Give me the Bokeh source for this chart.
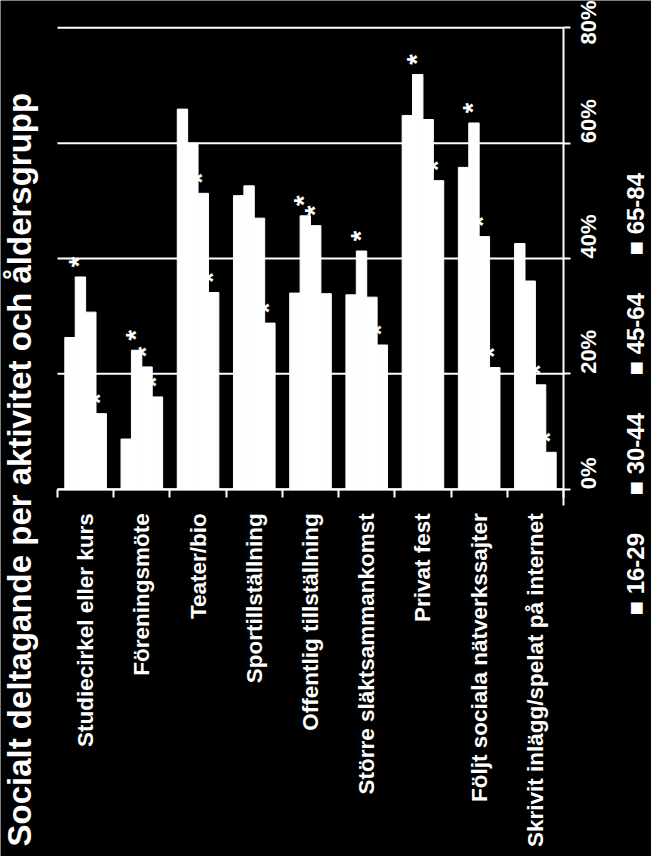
import math
from bokeh.plotting import figure
from bokeh.models import ColumnDataSource, FixedTicker, PrintfTickFormatter, Range1d
from bokeh.transform import dodge
from bokeh.core.properties import value
from bokeh.embed import file_html
from bokeh.resources import INLINE

title_text = "Socialt deltagande per aktivitet och åldersgrupp"
categories = ["Studiecirkel eller kurs", "Föreningsmöte", "Teater/bio", "Sportillställning",
              "Offentlig tillställning", "Större släktsammankomst", "Privat fest",
              "Följt sociala nätverkssajter", "Skrivit inlägg/spelat på internet"]
series = ["16-29", "30-44", "45-64", "65-84"]
v_16_29 = [26.3, 8.7, 65.9, 50.9, 34.0, 33.7, 64.8, 55.8, 42.6]
v_30_44 = [36.8, 24.1, 60.0, 52.6, 47.4, 41.3, 71.9, 63.5, 36.1]
v_45_64 = [30.7, 21.2, 51.3, 47.0, 45.7, 33.3, 64.1, 43.8, 18.1]
v_65_84 = [13.1, 16.0, 34.1, 28.8, 33.9, 25.0, 53.5, 21.1, 6.4]
# significance marks (*)
s_16_29 = [0, 0, 0, 0, 0, 0, 0, 0, 0]
s_30_44 = [1, 1, 0, 0, 1, 1, 1, 1, 0]
s_45_64 = [0, 1, 1, 0, 1, 0, 0, 1, 1]
s_65_84 = [1, 1, 1, 1, 0, 1, 1, 1, 1]
y_ticks = [0, 20, 40, 60, 80]

values = [v_16_29, v_30_44, v_45_64, v_65_84]
stars = [s_16_29, s_30_44, s_45_64, s_65_84]

FONT = "Liberation Sans"
W, H = 651, 856
N = len(categories)

# layout (pixel) geometry of the plotting area
PX_LEFT, PX_RIGHT = 57.0, 563.0      # category axis extent
PX_ZERO, PX_TOP = 488.7, 27.3        # 0% and 80% positions
ux = (PX_RIGHT - PX_LEFT) / N
uy = (PX_ZERO - PX_TOP) / y_ticks[-1]

def dx(px):
    return (px - PX_LEFT) / ux

def dy(py):
    return (PX_ZERO - py) / uy

p = figure(width=W, height=H, output_backend="svg", toolbar_location=None,
           x_range=Range1d(dx(0), dx(W)), y_range=Range1d(dy(H), dy(0)),
           y_axis_location="right", background_fill_color="black",
           border_fill_color="black", outline_line_color=None, min_border=0)
p.grid.visible = False

# gridlines
p.segment(x0=[0] * len(y_ticks), x1=[N] * len(y_ticks), y0=y_ticks, y1=y_ticks,
          line_color="white", line_width=2)

xc = [i + 0.5 for i in range(N)]
bw = 0.185
offsets = [-1.5 * bw, -0.5 * bw, 0.5 * bw, 1.5 * bw]

for vals, st, off in zip(values, stars, offsets):
    src = ColumnDataSource(dict(x=xc, top=vals, star=["*" if s else "" for s in st]))
    p.vbar(x=dodge("x", off, range=p.x_range), top="top", width=bw, bottom=0, source=src,
           fill_color="white", line_color="white", line_width=1)
    p.text(x=dodge("x", off, range=p.x_range), y="top", text="star", source=src,
           angle=math.pi / 2, text_align="center", text_baseline="middle",
           x_offset=-1, y_offset=-15, text_color="white", text_font=value(FONT),
           text_font_style="bold", text_font_size="27px")

# x axis (category axis, fixed at 0 %)
xa = p.xaxis[0]
xa.fixed_location = 0
xa.bounds = (0, N)
xa.ticker = FixedTicker(ticks=xc, minor_ticks=list(range(N + 1)))
xa.major_label_overrides = {x: c for x, c in zip(xc, categories)}
xa.major_label_orientation = math.pi / 2
xa.major_label_text_color = "white"
xa.major_label_text_font = FONT
xa.major_label_text_font_style = "bold"
xa.major_label_text_font_size = "22.5px"
xa.major_label_standoff = 16
xa.major_tick_line_color = None
xa.major_tick_out = 0
xa.minor_tick_line_color = "white"
xa.minor_tick_line_width = 2
xa.minor_tick_out = 8
xa.minor_tick_in = 0
xa.axis_line_color = "white"
xa.axis_line_width = 2

# y axis (value axis, right edge of categories)
ya = p.yaxis[0]
ya.fixed_location = N
ya.bounds = (dy(505), y_ticks[-1])
ya.ticker = FixedTicker(ticks=y_ticks, minor_ticks=[])
ya.formatter = PrintfTickFormatter(format="%d%%")
ya.major_label_orientation = math.pi / 2
ya.major_label_text_color = "white"
ya.major_label_text_font = FONT
ya.major_label_text_font_style = "bold"
ya.major_label_text_font_size = "22px"
ya.major_label_standoff = 18
ya.major_tick_line_color = "white"
ya.major_tick_line_width = 2
ya.major_tick_out = 7
ya.major_tick_in = 0
ya.axis_line_color = "white"
ya.axis_line_width = 2

# title (rotated, reads bottom to top)
p.text(x=[dx(19)], y=[dy(846)], text=[title_text], angle=math.pi / 2, text_align="left",
       text_baseline="alphabetic", text_color="white", text_font=value(FONT),
       text_font_style="bold", text_font_size="33px")

# legend (rotated)
leg_x = [dx(635)] * len(series)
leg_y = [dy(615 - 120 * i) for i in range(len(series))]
p.text(x=leg_x, y=leg_y, text=["■ " + s for s in series], angle=math.pi / 2,
       text_align="left", text_baseline="alphabetic", text_color="white",
       text_font=value(FONT), text_font_style="bold", text_font_size="24px")

open("out.html", "w").write(file_html(p, INLINE))
